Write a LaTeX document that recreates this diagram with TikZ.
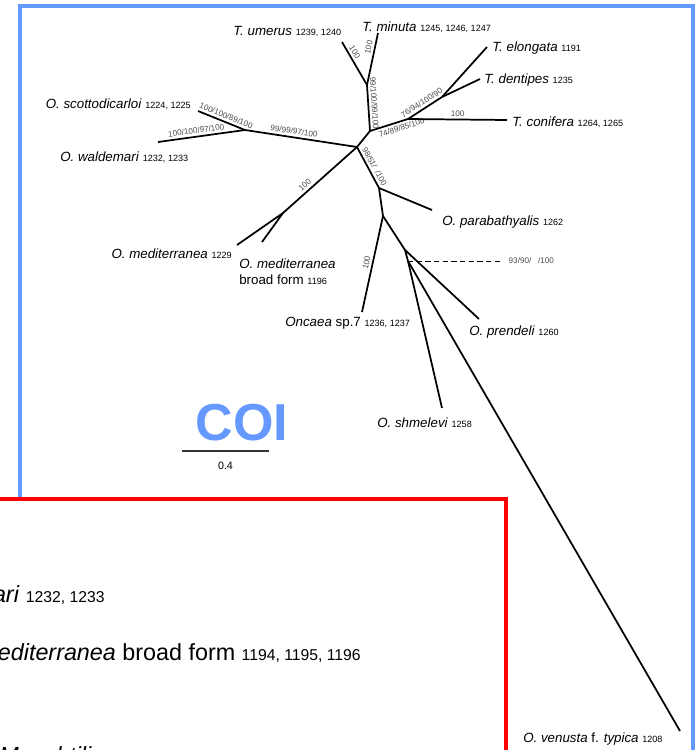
\documentclass[tikz,border=0pt]{standalone}
\usepackage{fontspec}
\setmainfont{Liberation Sans}
\usetikzlibrary{positioning}
\definecolor{coiblue}{RGB}{102,153,255}
\newcommand{\acc}[1]{{\fontsize{6.8}{8}\selectfont #1}}
\newcommand{\bigacc}[1]{{\fontsize{11.8}{14}\selectfont #1}}

\begin{document}
\begin{tikzpicture}[x=0.75pt,y=-0.75pt,
    branch/.style={line width=1.3pt},
    boot/.style={font=\fontsize{6.1}{7}\selectfont, text=black!70, inner sep=1.8pt, sloped},
    taxon/.style={font=\fontsize{10}{12}\selectfont, inner sep=0pt},
    frame/.style={line width=3pt}]
    \useasboundingbox (0,0) rectangle (697,750);
    \clip (0,0) rectangle (697,750);
    \draw[frame, coiblue] (20,6) rectangle (693,790);
    % internal nodes and tips
    \coordinate (n1) at (357,147);
    \coordinate (nW) at (245,130);
    \coordinate (sco) at (198,111);
    \coordinate (wal) at (158,142);
    \coordinate (nM) at (283,213);
    \coordinate (med) at (237,245);
    \coordinate (mbf) at (262,242);
    \coordinate (n2) at (370,131);
    \coordinate (nT) at (367,85);
    \coordinate (ume) at (342,42);
    \coordinate (min) at (378,33);
    \coordinate (nC) at (408,119);
    \coordinate (con) at (507,120);
    \coordinate (nE) at (442,97);
    \coordinate (elo) at (487,47);
    \coordinate (den) at (480,79);
    \coordinate (nP) at (379,188);
    \coordinate (par) at (432,210);
    \coordinate (nQ) at (383,216);
    \coordinate (onc) at (362,312);
    \coordinate (nR) at (405,250);
    \coordinate (pre) at (479,319);
    \coordinate (nS) at (408,261);
    \coordinate (shm) at (442,408);
    \coordinate (ven) at (680,731);
    \coordinate (dsh) at (503,261);
    % branches
    \draw[branch] (n1)--node[boot, above, pos=0.57]{99/99/97/100}(nW);
    \draw[branch] (sco)--node[boot, above, pos=0.55]{100/100/89/100}(nW);
    \draw[branch] (wal)--node[boot, above, pos=0.45]{100/100/97/100}(nW);
    \draw[branch] (nM)--node[boot, above, pos=0.35]{100}(n1);
    \draw[branch] (med)--(nM)--(mbf);
    \draw[branch] (n1)--(n2);
    \draw[branch] (nT)--node[boot, above, pos=0.4]{99/100/99/100}(n2);
    \draw[branch] (ume)--node[boot, above, pos=0.3]{100}(nT);
    \draw[branch] (min)--node[boot, above, pos=0.3]{100}(nT);
    \draw[branch] (n2)--node[boot, below, pos=0.78]{74/89/85/100}(nC);
    \draw[branch] (nC)--node[boot, above, pos=0.5]{100}(con);
    \draw[branch] (nC)--node[boot, above, pos=0.5]{76/94/100/90}(nE);
    \draw[branch] (nE)--(elo);
    \draw[branch] (nE)--(den);
    \draw[branch] (n1)--node[boot, above, pos=0.55]{98/51/\ \ /100}(nP);
    \draw[branch] (nP)--(par);
    \draw[branch] (nP)--(nQ);
    \draw[branch] (nQ)--node[boot, above, pos=0.5]{100}(onc);
    \draw[branch] (nQ)--(nR)--(pre);
    \draw[branch] (nR)--(nS);
    \draw[branch] (nS)--(shm);
    \draw[branch] (nS)--(ven);
    \draw[line width=0.6pt, dash pattern=on 4pt off 2.5pt] (nS)--(dsh);
    \node[anchor=west, font=\fontsize{6.1}{7}\selectfont, text=black!70] (dshL) at (504,261) {93/90/\ \ \ /100};
    % tip labels
    \node[taxon, anchor=base west] (Lume) at (233,35) {\textit{T. umerus} \acc{1239, 1240}};
    \node[taxon, anchor=base west] (Lmin) at (362,31) {\textit{T. minuta} \acc{1245, 1246, 1247}};
    \node[taxon, anchor=base west] (Lelo) at (492,51) {\textit{T. elongata} \acc{1191}};
    \node[taxon, anchor=base west] (Lden) at (484,83) {\textit{T. dentipes} \acc{1235}};
    \node[taxon, anchor=base west] (Lcon) at (512,126) {\textit{T. conifera} \acc{1264, 1265}};
    \node[taxon, anchor=base east] (Lsco) at (191,108) {\textit{O. scottodicarloi} \acc{1224, 1225}};
    \node[taxon, anchor=base west] (Lwal) at (60,161) {\textit{O. waldemari} \acc{1232, 1233}};
    \node[taxon, anchor=base east] (Lmed) at (232,258) {\textit{O. mediterranea} \acc{1229}};
    \node[taxon, anchor=base west, align=left] (Lmbf) at (239,284) {\textit{O. mediterranea}\\[0pt]broad form \acc{1196}};
    \node[taxon, anchor=base west] (Lpar) at (442,225) {\textit{O. parabathyalis} \acc{1262}};
    \node[taxon, anchor=base west] (Lpre) at (469,335) {\textit{O. prendeli} \acc{1260}};
    \node[taxon, anchor=base west] (Lonc) at (285,326) {\textit{Oncaea} sp.7 \acc{1236, 1237}};
    \node[taxon, anchor=base west] (Lshm) at (377,427) {\textit{O. shmelevi} \acc{1258}};
    \node[taxon, anchor=base west] (Lven) at (523,742) {\textit{O. venusta} f. \textit{typica} \acc{1208}};
    % gene name and scale bar
    \node[font=\fontsize{39}{40}\selectfont\bfseries, text=coiblue, inner sep=0pt] (gene) at (242,423) {COI};
    \coordinate (sb1) at (182,451);
    \coordinate (sb2) at (269,451);
    \coordinate (sbm) at (225.5,451);
    \draw[line width=1.5pt, black!80] (sb1)--(sb2);
    \node[font=\fontsize{8}{9}\selectfont, below=5pt of sbm] (sbL) {0.4};
    % overlapping panel
    \draw[frame, red, fill=white] (-20,499) rectangle (506,790);
    \node[anchor=base east, inner sep=0pt, font=\fontsize{17.5}{20}\selectfont] (Rwal) at (105,602) {\textit{O. waldemari} \bigacc{1232, 1233}};
    \node[anchor=base east, inner sep=0pt, font=\fontsize{17.5}{20}\selectfont] (Rmbf) at (361,660) {\textit{O. mediterranea} broad form \bigacc{1194, 1195, 1196}};
    \node[anchor=base west, inner sep=0pt, font=\fontsize{17.5}{20}\selectfont] (Rsub) at (-1,763) {\textit{M. subtilis}};
\end{tikzpicture}
\end{document}
